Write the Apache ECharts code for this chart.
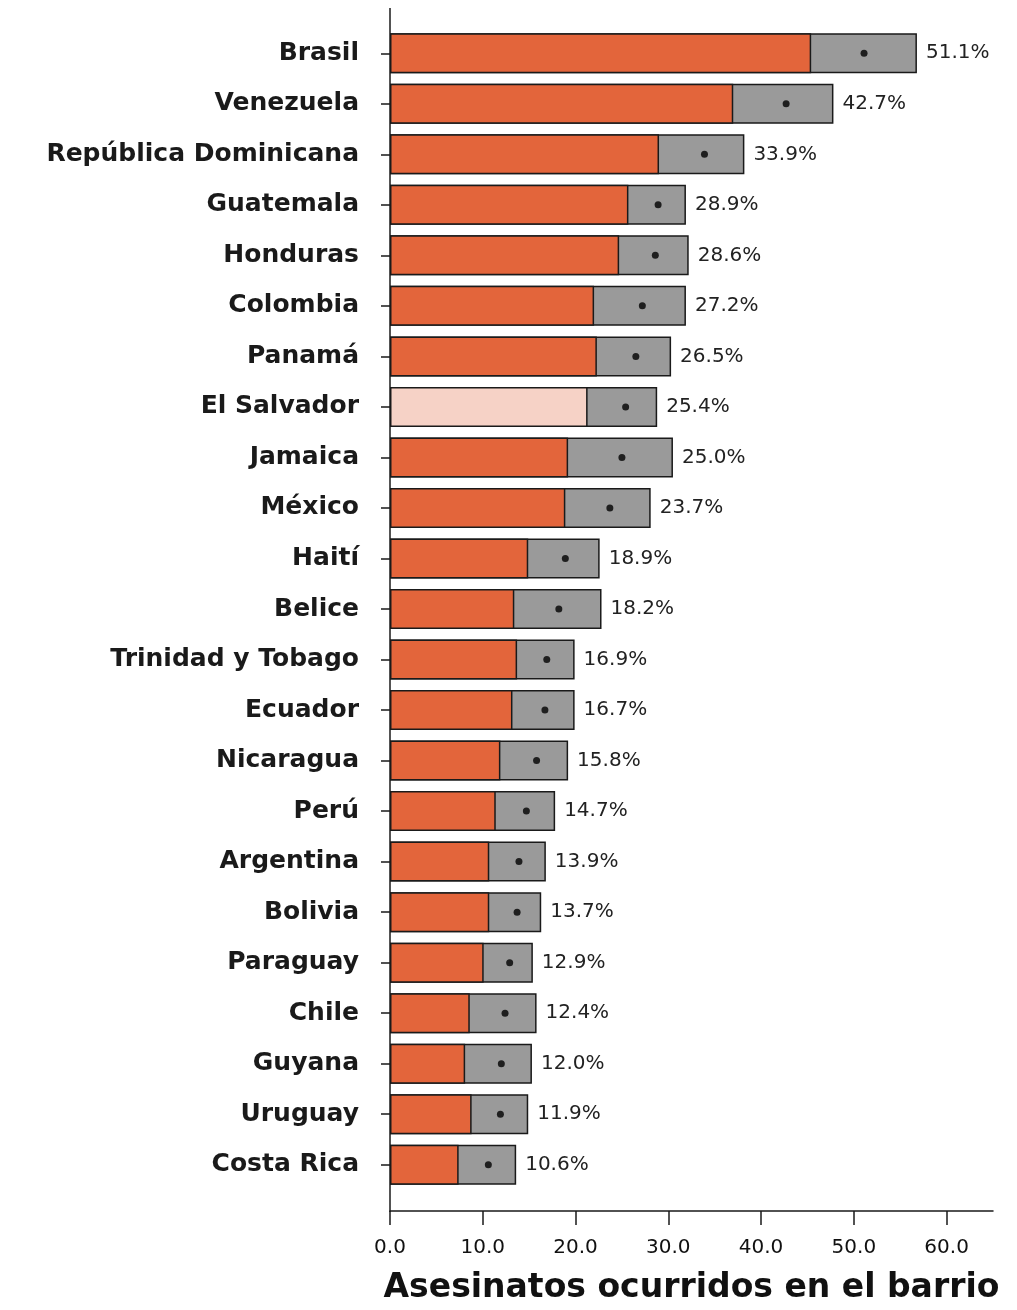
<!DOCTYPE html>
<html>
<head>
<meta charset="utf-8">
<script src="https://cdn.jsdelivr.net/npm/echarts@6/dist/echarts.min.js"></script>
<style>
html,body{margin:0;padding:0;background:#fff;}
#chart{width:1017px;height:1310px;}
</style>
</head>
<body>
<div id="chart"></div>
<script>
var countries = ["Brasil","Venezuela","República Dominicana","Guatemala","Honduras","Colombia","Panamá","El Salvador","Jamaica","México","Haití","Belice","Trinidad y Tobago","Ecuador","Nicaragua","Perú","Argentina","Bolivia","Paraguay","Chile","Guyana","Uruguay","Costa Rica"];
var estimate = [51.1,42.7,33.9,28.9,28.6,27.2,26.5,25.4,25.0,23.7,18.9,18.2,16.9,16.7,15.8,14.7,13.9,13.7,12.9,12.4,12.0,11.9,10.6];
var lower = [45.4,37.0,29.0,25.7,24.7,22.0,22.3,21.3,19.2,18.9,14.9,13.4,13.7,13.2,11.9,11.4,10.7,10.7,10.1,8.6,8.1,8.8,7.4];
var upper = [56.8,47.8,38.2,31.9,32.2,31.9,30.3,28.8,30.5,28.1,22.6,22.8,19.9,19.9,19.2,17.8,16.8,16.3,15.4,15.8,15.3,14.9,13.6];
var xTicks = [0,10,20,30,40,50,60];
var highlight = "El Salvador";

var chart = echarts.init(document.getElementById('chart'), null, {renderer:'canvas'});
var orange = '#E3653B', pale = '#F6D2C6', grey = '#9A9A9A', ink = '#1a1a1a';

chart.setOption({
  animation:false,
  backgroundColor:'#fff',
  grid:{left:390, right:24, top:28, bottom:120, containLabel:false},
  xAxis:{
    type:'value', min:0, max:65, interval:10, offset:21,
    name:'Asesinatos ocurridos en el barrio', nameLocation:'middle', nameGap:61,
    nameTextStyle:{fontFamily:'DejaVu Sans', fontWeight:'bold', fontSize:33, color:'#111'},
    axisLine:{show:true, lineStyle:{color:ink, width:1.5}},
    axisTick:{show:true, length:14, customValues:xTicks, lineStyle:{color:ink, width:1.5}},
    axisLabel:{customValues:xTicks, margin:27, fontFamily:'DejaVu Sans', fontSize:20, color:'#111',
      formatter:function(v){return v.toFixed(1);}},
    splitLine:{show:false}
  },
  yAxis:{
    type:'category', data:countries, inverse:true,
    axisLine:{show:false},
    axisTick:{show:true, alignWithLabel:true, length:9, lineStyle:{color:ink, width:1.5}},
    axisLabel:{margin:31, fontFamily:'DejaVu Sans', fontWeight:'bold', fontSize:25, color:ink}
  },
  graphic:[{type:'line', shape:{x1:390, y1:8, x2:390, y2:1212}, style:{stroke:ink, lineWidth:1.5}, z:10}],
  series:[
    {
      type:'bar', name:'ci', data:upper, barWidth:40, barGap:'-100%',
      itemStyle:{color:grey, borderColor:ink, borderWidth:1.5},
      label:{show:true, position:'right', distance:9, fontFamily:'DejaVu Sans', fontSize:20, color:'#222',
        formatter:function(p){return estimate[p.dataIndex].toFixed(1)+'%';}},
      z:2
    },
    {
      type:'bar', name:'low', barWidth:40, barGap:'-100%',
      data:lower.map(function(v,i){return {value:v, itemStyle:{color: countries[i]===highlight ? pale : orange}};}),
      itemStyle:{color:orange, borderColor:ink, borderWidth:1.5},
      z:3
    },
    {
      type:'scatter', data:estimate, symbol:'circle', symbolSize:7,
      itemStyle:{color:'#000'}, z:5
    }
  ]
});
</script>
</body>
</html>
